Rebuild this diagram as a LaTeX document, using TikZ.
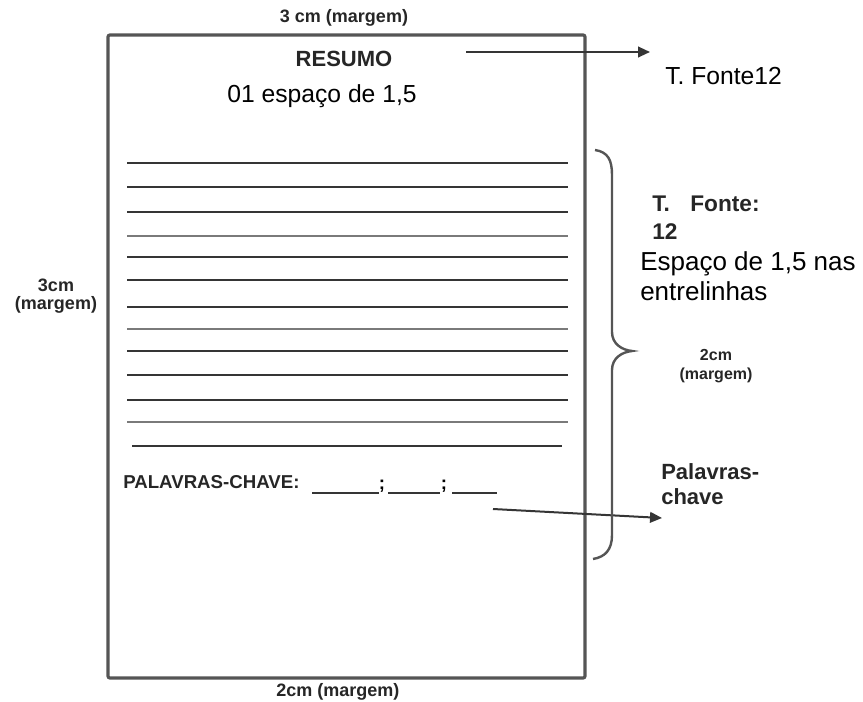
\documentclass[tikz,border=0pt]{standalone}
\usepackage{fontspec}
\setmainfont{Liberation Sans}
\usetikzlibrary{arrows.meta}
\definecolor{boxgray}{HTML}{555555}
\definecolor{linedark}{HTML}{353535}
\definecolor{linelight}{HTML}{7A7A7A}
\begin{document}
\begin{tikzpicture}[x=0.75pt,y=-0.75pt,
  page/.style={draw=boxgray,line width=2.4pt,rounded corners=1.5pt},
  rl/.style={draw=linedark,line width=1.9pt},
  rlg/.style={draw=linelight,line width=2.1pt},
  conn/.style={draw=linedark,line width=1.5pt,-{Triangle[length=9pt,width=8pt]}},
  margin/.style={font=\fontsize{13.5}{14}\selectfont\bfseries,text=black!85,inner sep=0pt},
  plain/.style={font=\fontsize{18.5}{22}\selectfont,inner sep=0pt,align=left},
  boldlbl/.style={font=\fontsize{17}{20}\selectfont\bfseries,text=black!85,inner sep=0pt,align=left},
  brace/.style={draw=boxgray,line width=1.8pt}]
\useasboundingbox (0,0) rectangle (863,702);
% page
\draw[page] (108,35) rectangle (585,678);
% margin labels
\node[margin] (mtop) at (344,18) {3 cm (margem)};
\node[margin,align=center] (mleft) at (56,296) {3cm\\[-1pt](margem)};
\node[margin] (mbot) at (338,692) {2cm (margem)};
% title
\node[font=\fontsize{16.5}{18}\selectfont\bfseries,text=black!85,inner sep=0pt] (resumo) at (344,59) {RESUMO};
\node[plain] (esp) at (322,96) {01 espaço de 1,5};
% text lines
\foreach \y/\s in {163/rl,187/rl,212/rl,236/rlg,257/rl,280/rl,307/rl,329/rlg,351/rl,375/rl,400/rl,422/rlg}{
  \draw[\s] (127,\y) -- (568,\y);
}
\draw[rl] (132,446) -- (562,446);
% keywords line
\node[font=\fontsize{14}{16}\selectfont\bfseries,text=black!85,inner sep=0pt,anchor=west] (pc) at (123,482) {PALAVRAS-CHAVE:};
\draw[rl,line width=1.6pt] (312,493) -- (379,493);
\node[font=\fontsize{14}{16}\selectfont\bfseries,inner sep=0pt] (sc1) at (382,486) {;};
\draw[rl,line width=1.6pt] (388,493) -- (440,493);
\node[font=\fontsize{14}{16}\selectfont\bfseries,inner sep=0pt] (sc2) at (444,486) {;};
\draw[rl,line width=1.6pt] (452,493) -- (497,493);
% right labels
\node[plain,anchor=west] (tf12) at (665,76) {T. Fonte12};
\coordinate (a1s) at (466,52);
\coordinate (a1e) at (650,52);
\draw[conn] (a1s) -- (a1e);
\node[boldlbl,anchor=north west] (tfonte) at (652,196) {T.\hspace{0.9em}Fonte:\\[1pt]12};
\node[plain,anchor=north west,font=\fontsize{19.5}{23}\selectfont] (espnas) at (640,251) {Espaço de 1,5 nas\\entrelinhas};
\node[margin,align=center,font=\fontsize{12}{13}\selectfont\bfseries] (m2) at (716,366) {2cm\\[1pt](margem)};
\node[boldlbl,anchor=north west,font=\fontsize{16.5}{19}\selectfont\bfseries] (pal) at (661,463) {Palavras-\\chave};
\coordinate (a2s) at (493,509);
\coordinate (a2e) at (662,518);
\draw[conn] (a2s) -- (a2e);
% brace
\draw[brace] (595,150) .. controls (608,152) and (612,160) .. (612,175)
  -- (612,332) .. controls (612,344) and (622,350) .. (632,351)
  .. controls (622,352) and (612,358) .. (612,370)
  -- (612,535) .. controls (612,550) and (605,557) .. (593,559);
\end{tikzpicture}
\end{document}
